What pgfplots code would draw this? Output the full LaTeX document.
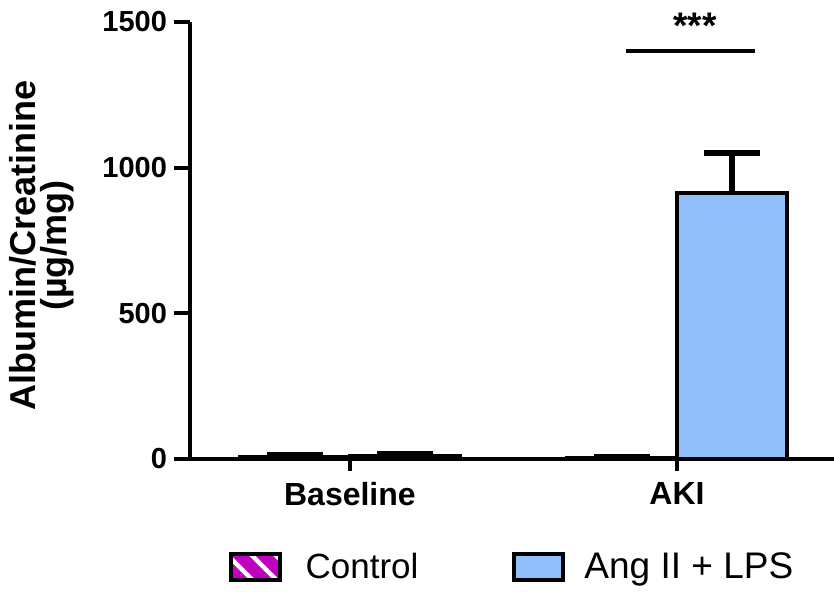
\documentclass[border=0pt]{standalone}
\usepackage{pgfplots}
\pgfplotsset{compat=1.18}
\usepackage{pgfplotstable}
\usepackage{fontspec}
\setmainfont{Liberation Sans}
\usetikzlibrary{patterns.meta}

\definecolor{ctrlmag}{HTML}{C000C0}
\definecolor{angblue}{HTML}{90BFF9}

% plain outlined box as legend swatch
\pgfplotsset{boxlegend/.style={legend image code/.code={%
  \draw[##1] (0pt,-6.5pt) rectangle (24.5pt,6.5pt);}}}

% group means and upper SEM for albumin/creatinine ratio
\pgfplotstableread{
x  ctrl ctrlerr ang angerr
0  8    5       10  7
1  4    3       912 140
}\acrdata

\begin{document}
\begin{tikzpicture}
\useasboundingbox (-95pt,-66.5pt) rectangle (322pt,229.5pt);
\begin{axis}[
  at={(0,0)}, anchor=south west,
  scale only axis, width=322pt, height=218.5pt,
  xmin=-0.489, xmax=1.48, ymin=0, ymax=1500,
  axis lines=left, axis line style={-, line width=2pt, black},
  clip=false,
  ybar=0pt, bar width=55pt,
  xtick={0,1}, xticklabels={Baseline,AKI},
  ytick={0,500,1000,1500},
  /pgf/number format/1000 sep={},
  /pgf/number format/assume math mode=true,
  tick align=outside,
  major tick length=8pt,
  tick style={line width=2pt, black},
  xtick style={/pgfplots/major tick length=6pt},
  yticklabel style={font=\bfseries\fontsize{14.5}{17}\selectfont},
  xticklabel style={font=\bfseries\fontsize{16}{19}\selectfont},
  ylabel={Albumin/Creatinine\\(µg/mg)},
  every axis y label/.style={at={(axis description cs:0,0.5)}, xshift=-74pt,
    yshift=-2.5pt, rotate=90, anchor=center, align=center,
    font=\bfseries\fontsize{18}{15.5}\selectfont},
  legend columns=2,
  legend style={draw=none, fill=none, at={(axis description cs:0.05,-0.247)},
    anchor=west, font=\fontsize{17.5}{20}\selectfont,
    /tikz/every odd column/.append style={column sep=10pt},
    /tikz/every even column/.append style={column sep=45pt}},
  error bars/error mark=|,
]
\addplot[fill=ctrlmag, draw=black, line width=2pt,
  postaction={pattern={Lines[angle=-45,distance=8.5pt,line width=2.2pt]}, pattern color=white},
  boxlegend,
  error bars/.cd, y dir=plus, y explicit,
  error bar style={line width=3pt, black},
  error mark options={line width=3pt, black, mark size=14pt}]
  table[x=x, y=ctrl, y error=ctrlerr]{\acrdata};
\addlegendentry{Control}
\addplot[fill=angblue, draw=black, line width=2pt,
  boxlegend,
  error bars/.cd, y dir=plus, y explicit,
  error bar style={line width=3pt, black},
  error mark options={line width=3pt, black, mark size=14pt}]
  table[x=x, y=ang, y error=angerr]{\acrdata};
\addlegendentry{\hspace*{-2.5pt}\fontsize{18.5}{20}\selectfont Ang II + LPS}
% significance bracket
\draw[line width=2pt] (axis cs:0.844,1400) -- (axis cs:1.239,1400);
\node[anchor=base, font=\bfseries\fontsize{18.5}{20}\selectfont, inner sep=0pt] at (axis cs:1.055,1445) {***};
\end{axis}
\end{tikzpicture}
\end{document}
